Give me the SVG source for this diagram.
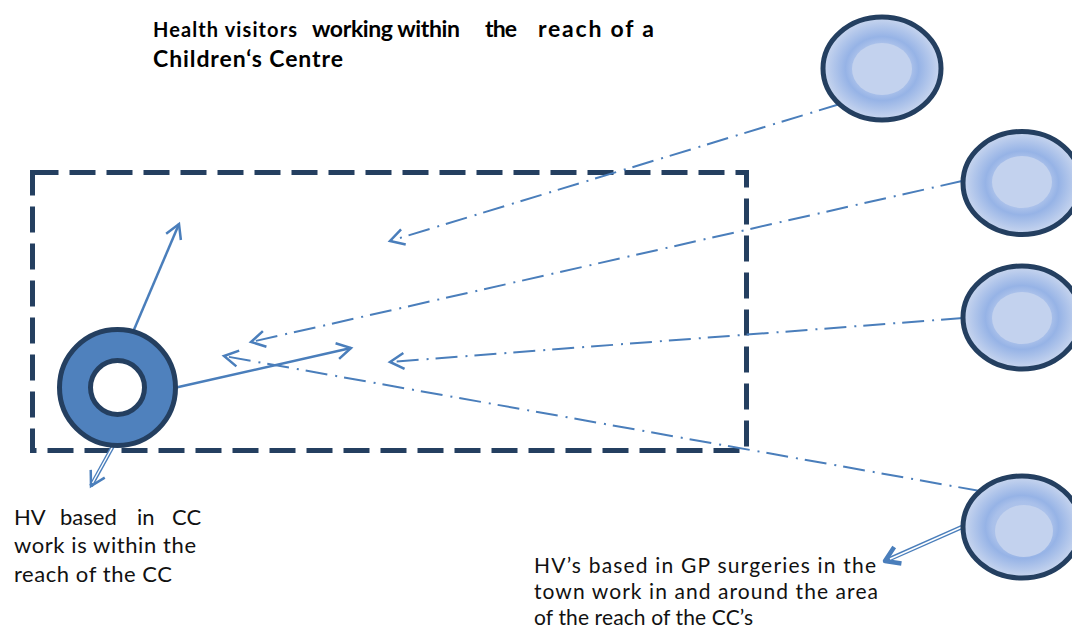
<svg xmlns="http://www.w3.org/2000/svg" width="1072" height="632" viewBox="0 0 1072 632">
  <style>
    .lbl { font-family: Lato, "Liberation Sans", sans-serif; fill: #111; }
    .ttl { font-family: Lato, "Liberation Sans", sans-serif; font-weight: bold; fill: #000; }
    .solid { stroke: #4A7EBB; stroke-width: 2.5; fill: none; }
    .dashdot { stroke: #4A7EBB; stroke-width: 2; fill: none; stroke-dasharray: 22 7 2 8; }
    .hv { stroke: #243F60; stroke-width: 5; fill: url(#hvFill); }
    .hvCore { fill: #C3D2EE; }
  </style>
  <defs>
    <radialGradient id="hvFill" cx="0.5" cy="0.5" r="0.5">
      <stop offset="0" stop-color="#C3D2EE"/>
      <stop offset="0.5" stop-color="#A9C0EA"/>
      <stop offset="0.62" stop-color="#96B3E6"/>
      <stop offset="1" stop-color="#CAD7EF"/>
    </radialGradient>
    <marker id="openArrow" markerUnits="userSpaceOnUse" markerWidth="24" markerHeight="24" refX="16" refY="12" orient="auto">
      <path d="M2,4 L16,12 L2,20" fill="none" stroke="#4A7EBB" stroke-width="2.5"/>
    </marker>
    <marker id="thickArrow" markerUnits="userSpaceOnUse" markerWidth="28" markerHeight="28" refX="18" refY="14" orient="auto">
      <path d="M4,5 L18,14 L4,23" fill="none" stroke="#4A7EBB" stroke-width="4.5" stroke-linejoin="round"/>
    </marker>
  </defs>

  <!-- title -->
  <g id="title">
    <text class="ttl" y="37"><tspan x="153" font-size="20" textLength="144">Health visitors</tspan><tspan x="312" font-size="23" textLength="148">working within</tspan><tspan x="485" font-size="23" textLength="32">the</tspan><tspan x="538" font-size="23" textLength="116">reach of a</tspan></text>
    <text class="ttl" x="153" y="67" font-size="23" textLength="190">Children‘s Centre</text>
  </g>

  <!-- reach boundary of the Children's Centre -->
  <g id="reach-area">
    <rect x="32.5" y="172.5" width="714" height="278" fill="none" stroke="#243F60" stroke-width="5" stroke-dasharray="26 11"/>
  </g>

  <!-- connectors -->
  <g id="connectors">
    <line class="solid" x1="133" y1="332" x2="179" y2="224" marker-end="url(#openArrow)"/>
    <line class="solid" x1="174" y1="388" x2="351" y2="348" marker-end="url(#openArrow)"/>
    <line class="dashdot" x1="840" y1="104" x2="390" y2="241" marker-end="url(#openArrow)"/>
    <line class="dashdot" x1="962" y1="181" x2="251" y2="342" marker-end="url(#openArrow)"/>
    <line class="dashdot" x1="963" y1="318" x2="390" y2="362" marker-end="url(#openArrow)"/>
    <line class="dashdot" x1="980" y1="491" x2="224" y2="356" marker-end="url(#openArrow)"/>
    <!-- double-line pointers to the labels -->
    <g>
      <line x1="113" y1="446" x2="91" y2="486" stroke="#4A7EBB" stroke-width="4" marker-end="url(#openArrow)"/>
      <line x1="113" y1="446" x2="92.5" y2="483" stroke="#fff" stroke-width="1.4"/>
    </g>
    <g>
      <line x1="962" y1="527" x2="885" y2="561" stroke="#4A7EBB" stroke-width="4.5" marker-end="url(#thickArrow)"/>
      <line x1="962" y1="527" x2="890" y2="559" stroke="#fff" stroke-width="1.5"/>
    </g>
  </g>

  <!-- HV based in the Children's Centre -->
  <g id="cc-hv">
    <circle cx="117.5" cy="387.5" r="58" fill="#4F81BD" stroke="#243F60" stroke-width="5"/>
    <circle cx="117.5" cy="387.5" r="27" fill="#fff" stroke="#243F60" stroke-width="5"/>
  </g>

  <!-- HVs based in GP surgeries -->
  <g id="gp-hv-1">
    <ellipse class="hv" cx="882" cy="68.5" rx="59" ry="51.5"/>
    <ellipse class="hvCore" cx="882" cy="69" rx="30" ry="26"/>
  </g>
  <g id="gp-hv-2">
    <ellipse class="hv" cx="1022" cy="183" rx="59" ry="51.5"/>
    <ellipse class="hvCore" cx="1022" cy="182" rx="30" ry="26"/>
  </g>
  <g id="gp-hv-3">
    <ellipse class="hv" cx="1022" cy="317.5" rx="59" ry="51.5"/>
    <ellipse class="hvCore" cx="1022" cy="318" rx="30" ry="26"/>
  </g>
  <g id="gp-hv-4">
    <ellipse class="hv" cx="1022" cy="527" rx="59" ry="51"/>
    <ellipse class="hvCore" cx="1024" cy="531" rx="29" ry="26"/>
  </g>

  <!-- labels -->
  <g id="cc-label">
    <text class="lbl" font-size="22" y="525"><tspan x="14">HV</tspan><tspan x="60">based</tspan><tspan x="137">in</tspan><tspan x="172">CC</tspan></text>
    <text class="lbl" font-size="22" x="14" y="553" textLength="182">work is within  the</text>
    <text class="lbl" font-size="22" x="14" y="582" textLength="158">reach  of the  CC</text>
  </g>
  <g id="gp-label">
    <text class="lbl" font-size="21" x="534" y="573" textLength="342">HV’s based in GP surgeries in the</text>
    <text class="lbl" font-size="21" x="534" y="599" textLength="344">town work in and  around the area</text>
    <text class="lbl" font-size="21" x="534" y="625" textLength="219">of the reach of the  CC’s</text>
  </g>
</svg>
